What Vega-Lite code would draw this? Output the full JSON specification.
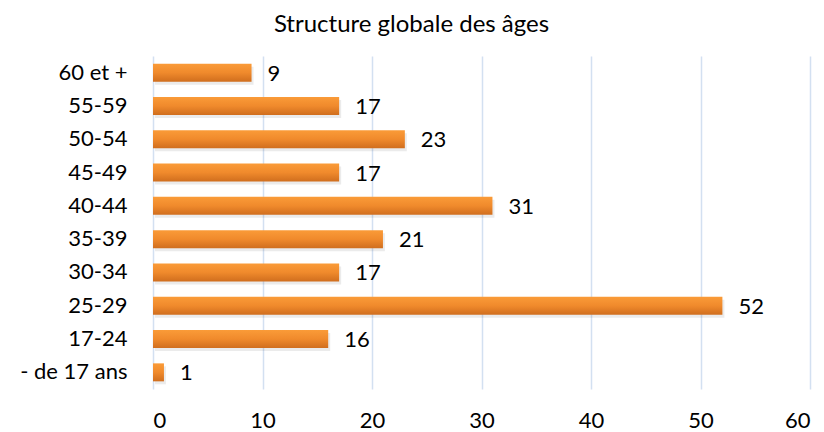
{
  "$schema": "https://vega.github.io/schema/vega-lite/v6.json",
  "width": 657,
  "height": 333,
  "autosize": {"type": "none"},
  "padding": {"left": 153, "top": 56, "right": 14, "bottom": 43},
  "background": "white",
  "title": {"text": "Structure globale des âges", "font": "Lato", "fontSize": 24, "fontWeight": "normal", "color": "#000000", "anchor": "middle", "dx": -70, "offset": 19},
  "data": {"values": [
    {"age": "60 et +", "n": 9},
    {"age": "55-59", "n": 17},
    {"age": "50-54", "n": 23},
    {"age": "45-49", "n": 17},
    {"age": "40-44", "n": 31},
    {"age": "35-39", "n": 21},
    {"age": "30-34", "n": 17},
    {"age": "25-29", "n": 52},
    {"age": "17-24", "n": 16},
    {"age": "- de 17 ans", "n": 1}
  ]},
  "encoding": {
    "y": {"field": "age", "type": "nominal", "sort": null,
      "scale": {"paddingInner": 0.46, "paddingOuter": 0.23},
      "axis": {"title": null, "domain": false, "ticks": false, "labelFont": "Lato", "labelFontSize": 22, "labelColor": "#000000", "labelPadding": 26}},
    "x": {"field": "n", "type": "quantitative", "scale": {"domain": [0, 60]},
      "axis": {"title": null, "domain": false, "ticks": false, "values": [0,10,20,30,40,50,60], "labelFont": "Lato", "labelFontSize": 22, "labelColor": "#000000", "labelPadding": 21, "gridColor": "#D3E0F1", "gridWidth": 1.5}}
  },
  "layer": [
    {"mark": {"type": "bar", "color": "#000000", "opacity": 0.08, "xOffset": 2, "yOffset": 3}},
    {"mark": {"type": "bar", "color": {"gradient": "linear", "x1": 0, "y1": 0, "x2": 0, "y2": 1, "stops": [{"offset": 0, "color": "#FA9B38"}, {"offset": 0.5, "color": "#F08A2C"}, {"offset": 1, "color": "#D06E1E"}]}}},
    {"mark": {"type": "text", "align": "left", "baseline": "middle", "dx": 16, "dy": 1, "font": "Lato", "fontSize": 22, "color": "#000000"},
     "encoding": {"text": {"field": "n", "type": "quantitative"}}}
  ],
  "config": {"view": {"stroke": null}}
}
